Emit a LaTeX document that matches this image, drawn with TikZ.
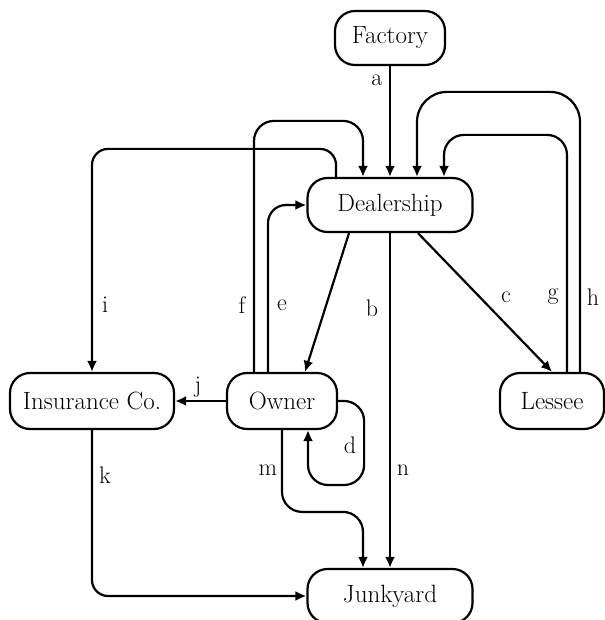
\documentclass[tikz,border=0pt]{standalone}
\usetikzlibrary{arrows.meta}
\begin{document}
\begin{tikzpicture}[x=1pt,y=-1pt,
  box/.style={draw,line width=2.2pt,rounded corners=20pt,minimum height=54pt,inner sep=0pt,font=\fontsize{25}{30}\selectfont},
  lab/.style={font=\fontsize{24}{29}\selectfont,inner sep=0pt},
  conn/.style={line width=2.2pt,-{Latex[length=11pt,width=10pt]}},
  plain/.style={line width=2.2pt}]
\useasboundingbox (0,0) rectangle (604,620);
\node[box,minimum width=110pt] (F) at (390,38) {Factory};
\node[box,minimum width=165pt] (D) at (390,205) {Dealership};
\node[box,minimum width=110pt,minimum height=56pt] (O) at (282,401) {Owner};
\node[box,minimum width=164pt,minimum height=56pt] (I) at (92,401) {Insurance Co.};
\node[box,minimum width=104pt,minimum height=56pt] (L) at (552,401) {Lessee};
\node[box,minimum width=165pt] (J) at (390,596) {Junkyard};

% a
\draw[conn] (F.south) -- (D.north);
% b
\draw[conn] ([xshift=-41pt]D.south) -- ([xshift=23pt]O.north);
% c
\draw[conn] ([xshift=28pt]D.south) -- (L.north);
% d
\draw[conn,rounded corners=20pt] (O.east) -- ++(26,0) -- ++(0,84) -| ([xshift=26pt]O.south);
% e
\draw[conn,rounded corners=18pt] ([xshift=-14pt]O.north) |- (D.west);
% f
\draw[conn,rounded corners=20pt] ([xshift=-28pt]O.north) |- ([xshift=-27pt,yshift=56pt]D.north) -- ([xshift=-27pt]D.north);
% g
\draw[conn,rounded corners=20pt] ([xshift=15pt]L.north) |- ([xshift=54pt,yshift=42pt]D.north) -- ([xshift=54pt]D.north);
% h
\draw[conn,rounded corners=30pt] ([xshift=28pt]L.north) |- ([xshift=27pt,yshift=85pt]D.north) -- ([xshift=27pt]D.north);
% i
\draw[conn,rounded corners=16pt] ([xshift=-54pt]D.north) -- ([xshift=-54pt,yshift=28pt]D.north) -| (I.north);
% j
\draw[conn] (O.west) -- (I.east);
% k
\draw[conn,rounded corners=16pt] (I.south) |- (J.west);
% m
\draw[conn,rounded corners=20pt] (O.south) |- ([xshift=-27pt,yshift=56pt]J.north) -- ([xshift=-27pt]J.north);
% n
\draw[conn] (D.south) -- (J.north);

\node[lab] (la) at (377,80) {a};
\node[lab] (lb) at (372,308) {b};
\node[lab] (lc) at (506,297) {c};
\node[lab] (ld) at (350,445) {d};
\node[lab] (le) at (282,305) {e};
\node[lab] (lf) at (242,305) {f};
\node[lab] (lg) at (553,297) {g};
\node[lab] (lh) at (593,297) {h};
\node[lab] (li) at (105,305) {i};
\node[lab] (lj) at (198,387) {j};
\node[lab] (lk) at (105,475) {k};
\node[lab] (lm) at (268,470) {m};
\node[lab] (ln) at (403,470) {n};
\end{tikzpicture}
\end{document}
